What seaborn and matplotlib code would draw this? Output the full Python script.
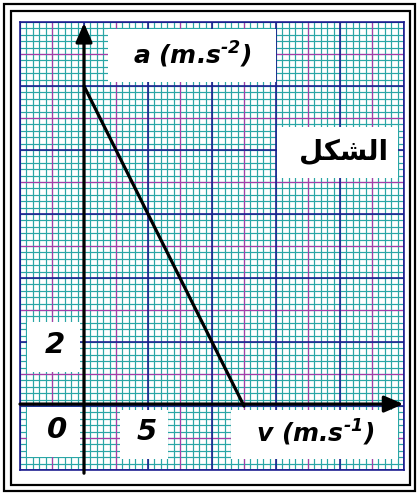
import numpy as np
import pandas as pd
import matplotlib
matplotlib.use("Agg")
import matplotlib.pyplot as plt
import seaborn as sns
from matplotlib.patches import Rectangle

# Acceleration as a function of speed
speed = [0.0, 12.5]          # v (m.s-1)
accel = [10.0, 0.0]          # a (m.s-2)

x_tick_values = [5]
x_tick_labels = ["5"]
y_tick_values = [2]
y_tick_labels = ["2"]
origin_label = "0"
x_label = r"v (m.s$^{\text{-}1}$)"
y_label = r"a (m.s$^{\text{-}2}$)"
caption = "الشكل"


def shape_arabic(word):
    """Join Arabic letters into presentation forms, returned in visual order."""
    forms = {  # isolated, final, initial, medial
        "ا": ("\uFE8D", "\uFE8E", None, None),
        "ل": ("\uFEDD", "\uFEDE", "\uFEDF", "\uFEE0"),
        "ش": ("\uFEB5", "\uFEB6", "\uFEB7", "\uFEB8"),
        "ك": ("\uFED9", "\uFEDA", "\uFEDB", "\uFEDC"),
    }
    out = []
    for i, ch in enumerate(word):
        iso, fin, ini, med = forms[ch]
        prev_joins = i > 0 and forms[word[i - 1]][2] is not None
        next_joins = i < len(word) - 1 and ini is not None
        if prev_joins and next_joins:
            out.append(med)
        elif prev_joins:
            out.append(fin)
        elif next_joins:
            out.append(ini)
        else:
            out.append(iso)
    return "".join(reversed(out))


sns.set_theme(style="white")
plt.rcParams["font.family"] = ["DejaVu Sans"]
plt.rcParams["mathtext.fontset"] = "custom"
plt.rcParams["mathtext.rm"] = "DejaVu Sans:bold:italic"
plt.rcParams["mathtext.it"] = "DejaVu Sans:bold:italic"
plt.rcParams["mathtext.bf"] = "DejaVu Sans:bold:italic"

W, H = 417, 493
PX = 0.72  # one pixel in points at 100 dpi
fig = plt.figure(figsize=(W / 100, H / 100), dpi=100)
fig.patch.set_facecolor("white")

# graph-paper area
ax = fig.add_axes([20 / W, (H - 470) / H, 384 / W, 448 / H])
ax.set_xlim(-5, 25)
ax.set_ylim(-2, 12)
ax.set_facecolor("white")
ax.set_xticks([])
ax.set_yticks([])

teal = "#2aa6a6"
magenta = "#a83ca8"
navy = "#1a1a8e"

for sp in ax.spines.values():
    sp.set_color(navy)
    sp.set_linewidth(1.6 * PX)

# fine squares
for xv in np.arange(-5, 25.01, 0.5):
    ax.axvline(xv, color=teal, lw=1.2 * PX, zorder=1)
for yv in np.arange(-2, 12.01, 0.2):
    ax.axhline(yv, color=teal, lw=1.2 * PX, zorder=1)
# half-major lines
for xv in np.arange(-2.5, 25, 5):
    ax.axvline(xv, color=magenta, lw=1.2 * PX, zorder=2)
for yv in np.arange(-1, 12, 2):
    ax.axhline(yv, color=magenta, lw=1.2 * PX, zorder=2)
# major lines
for xv in np.arange(-5, 25.01, 5):
    ax.axvline(xv, color=navy, lw=1.6 * PX, zorder=3)
for yv in np.arange(-2, 12.01, 2):
    ax.axhline(yv, color=navy, lw=1.6 * PX, zorder=3)

# white label boxes
def box(x0, x1, y0, y1):
    ax.add_patch(Rectangle((x0, y0), x1 - x0, y1 - y0, facecolor="white",
                           edgecolor="none", zorder=4))

txt = dict(fontweight="bold", fontstyle="italic", color="black",
           ha="center", va="center", zorder=6)

box(1.875, 15.0, 10.125, 11.78)
ax.text(8.44, 10.97, y_label, fontsize=18, **txt)

box(15.08, 24.53, 7.125, 8.72)
ax.text(20.3, 7.95, shape_arabic(caption), fontsize=20,
        fontweight="bold", color="black", ha="center", va="center", zorder=6)

box(-4.45, -0.31, 1.06, 2.625)
ax.text(-2.3, y_tick_values[0] - 0.1, y_tick_labels[0], fontsize=21, **txt)

box(-4.45, -0.31, -1.59, -0.03)
ax.text(-2.1, -0.75, origin_label, fontsize=21, **txt)

box(2.81, 6.56, -1.66, -0.125)
ax.text(x_tick_values[0] - 0.08, -0.82, x_tick_labels[0], fontsize=21, **txt)

box(11.48, 24.53, -1.66, -0.125)
ax.text(18.05, -0.84, x_label, fontsize=18, **txt)

# coordinate axes with arrow heads
arrow = dict(arrowstyle="-|>,head_length=1.15,head_width=0.5", color="black",
             lw=2.3 * PX * 1.4, shrinkA=0, shrinkB=0, mutation_scale=10)
ax.annotate("", xy=(0, 11.97), xytext=(0, -2.1), arrowprops=arrow,
            annotation_clip=False, zorder=7)
ax.annotate("", xy=(24.95, 0.06), xytext=(-5, 0.06), arrowprops=arrow,
            annotation_clip=False, zorder=7)

# the a(v) line
df = pd.DataFrame({"v": speed, "a": accel})
sns.lineplot(data=df, x="v", y="a", color="black", lw=3.2 * PX, ax=ax,
             zorder=8)
ax.set_xlabel("")
ax.set_ylabel("")

# double frame around the whole figure
def frame(x0, y0, x1, y1, lw):
    fig.patches.append(Rectangle((x0 / W, 1 - y1 / H), (x1 - x0) / W,
                                 (y1 - y0) / H, transform=fig.transFigure,
                                 facecolor="none", edgecolor="black",
                                 lw=lw * PX, zorder=10))

frame(4, 3.5, 415, 491, 2.2)
frame(10.5, 10.5, 410, 484.5, 2.2)

fig.savefig("out.png", dpi=100, facecolor="white")
